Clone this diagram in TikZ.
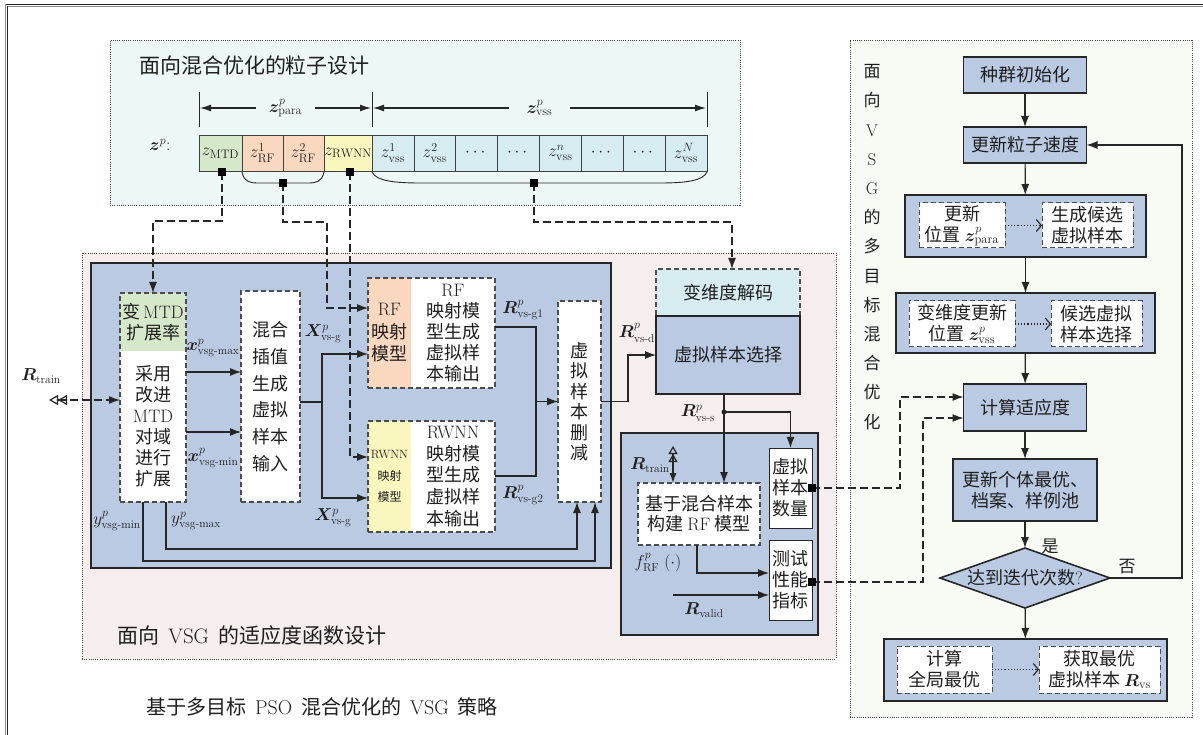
\documentclass[tikz,border=0pt]{standalone}
\usepackage{amsmath,bm}
\usepackage{fontspec}
\newfontfamily\cjk{Noto Sans CJK SC}
\usetikzlibrary{arrows.meta,shapes.geometric,fit,calc}
\definecolor{bluefill}{RGB}{185,202,226}
\definecolor{greenfill}{RGB}{214,232,202}
\definecolor{orangefill}{RGB}{250,216,191}
\definecolor{yellowfill}{RGB}{249,246,190}
\definecolor{cyanfill}{RGB}{214,236,240}
\definecolor{toppanel}{RGB}{238,247,248}
\definecolor{midpanel}{RGB}{246,237,237}
\definecolor{rightpanel}{RGB}{248,250,244}
\definecolor{edge}{RGB}{38,38,38}
\newcommand{\en}[1]{{\rmfamily #1}}
\newcommand{\gap}{\hspace{0.45em}}
\begin{document}
\begin{tikzpicture}[x=1pt,y=-1pt,
 every node/.style={inner sep=0pt,outer sep=0pt,text=black!88},
 zh18/.style={font=\fontsize{18}{21}\selectfont\cjk},
 panelbox/.style={draw=black!75, line width=0.9pt, dash pattern=on 1pt off 1.2pt},
 bigbox/.style={draw=edge, line width=1.6pt, fill=bluefill},
 dframe/.style={draw=black!70, line width=1.1pt, dash pattern=on 5pt off 3pt},
 dbox/.style={dframe, fill=white, align=center, zh18},
 sbox/.style={draw=edge, line width=0.8pt, fill=white, align=center, zh18},
 fbox/.style={draw=edge, line width=1.6pt, fill=bluefill, align=center, zh18},
 cell/.style={draw=black!75, line width=0.7pt, minimum height=36pt, font=\fontsize{17.5}{20}\selectfont},
 con/.style={draw=edge, line width=1.2pt},
 dcon/.style={draw=edge, line width=1.2pt, dash pattern=on 8pt off 4pt},
 arr/.style={-{Latex[length=11pt,width=8pt]}},
 sq/.style={fill=black, minimum size=8pt},
 mlab/.style={font=\fontsize{16.5}{18}\selectfont},
]
\useasboundingbox (0,0) rectangle (1203,735);
\fill[white] (0,0) rectangle (1203,735);
% outer frame
\draw[black!85, line width=1.6pt] (5,4.5) -- (1203,4.5);
\draw[black!45, line width=0.8pt] (7,6.8) -- (1203,6.8);
\draw[black!45, line width=0.9pt] (5,4) -- (5,735);
\draw[black!85, line width=1.2pt] (7.4,6) -- (7.4,735);

% panels
\node[panelbox, fill=toppanel, minimum width=630pt, minimum height=165pt] (ptop) at (425,122.5) {};
\node[panelbox, fill=midpanel, minimum width=754pt, minimum height=406pt] (pmid) at (459,456) {};
\node[panelbox, fill=rightpanel, minimum width=342pt, minimum height=677pt] (pright) at (1021,378.5) {};

\node[anchor=west, font=\fontsize{21}{24}\selectfont\cjk] (ttop) at (139,66) {面向混合优化的粒子设计};
\node[anchor=west, font=\fontsize{21}{24}\selectfont\cjk] (tmid) at (117,636) {面向\gap\en{VSG}\gap 的适应度函数设计};
\node[anchor=west, font=\fontsize{20}{22}\selectfont\cjk] (tbot) at (146,707) {基于多目标\gap\en{PSO}\gap 混合优化的\gap\en{VSG}\gap 策略};

% particle cells
\node[font=\fontsize{17.5}{20}\selectfont] (zp) at (160,145) {$\bm z^p$:};
\node[cell, fill=greenfill, minimum width=43pt] (cMTD) at (220.5,153) {$z_{\mathrm{MTD}}$};
\node[cell, fill=orangefill, minimum width=41pt] (cRFa) at (262.5,153) {$z^1_{\mathrm{RF}}$};
\node[cell, fill=orangefill, minimum width=41pt] (cRFb) at (303.5,153) {$z^2_{\mathrm{RF}}$};
\node[cell, fill=yellowfill, minimum width=48pt] (cRW) at (348,153) {$z_{\mathrm{RWNN}}$};
\node[cell, fill=cyanfill, minimum width=41.875pt] (v1) at (392.94,153) {$z^1_{\mathrm{vss}}$};
\node[cell, fill=cyanfill, minimum width=41.875pt] (v2) at (434.81,153) {$z^2_{\mathrm{vss}}$};
\node[cell, fill=cyanfill, minimum width=41.875pt] (v3) at (476.69,153) {$\cdots$};
\node[cell, fill=cyanfill, minimum width=41.875pt] (v4) at (518.56,153) {$\cdots$};
\node[cell, fill=cyanfill, minimum width=41.875pt] (v5) at (560.44,153) {$z^n_{\mathrm{vss}}$};
\node[cell, fill=cyanfill, minimum width=41.875pt] (v6) at (602.31,153) {$\cdots$};
\node[cell, fill=cyanfill, minimum width=41.875pt] (v7) at (644.19,153) {$\cdots$};
\node[cell, fill=cyanfill, minimum width=41.875pt] (v8) at (686.06,153) {$z^N_{\mathrm{vss}}$};

% dimension lines
\draw[edge, line width=0.8pt] (199,92) -- (199,127);
\draw[edge, line width=0.8pt] (372,92) -- (372,127);
\draw[edge, line width=0.8pt] (707,92) -- (707,127);
\coordinate (da) at (200,108); \coordinate (db) at (371,108);
\coordinate (dc) at (373,108); \coordinate (dd) at (706,108);
\draw[con, {Latex[length=11pt,width=7pt]}-{Latex[length=11pt,width=7pt]}] (da) -- (db)
  node[midway, fill=toppanel, inner xsep=13pt, inner ysep=3pt, font=\fontsize{17.5}{20}\selectfont] (lpara) {$\bm z^p_{\textrm{para}}$};
\draw[con, {Latex[length=11pt,width=7pt]}-{Latex[length=11pt,width=7pt]}] (dc) -- (dd)
  node[midway, fill=toppanel, inner xsep=18pt, inner ysep=3pt, font=\fontsize{17.5}{20}\selectfont] (lvss) {$\bm z^p_{\textrm{vss}}$};

% braces
\draw[edge, line width=0.9pt] (242,172) .. controls (244,182) and (250,183) .. (258,183) -- (308,183) .. controls (316,183) and (322,182) .. (324,172);
\draw[edge, line width=0.9pt] (372,172) .. controls (376,181) and (395,183) .. (420,183) -- (660,183) .. controls (685,183) and (703,181) .. (707,172);

% ===== left fitness block =====
\node[bigbox, minimum width=520pt, minimum height=305pt] (bigL) at (351,415.5) {};
\node[fill=greenfill, minimum width=66pt, minimum height=58pt, align=center, zh18] (varmtd) at (153,322) {变\,\en{MTD}\\扩展率};
\node[fill=white, minimum width=66pt, minimum height=151pt, align=center, zh18] (mtdexp) at (153,426.5) {采用\\改进\\\en{MTD}\\对域\\进行\\扩展};
\node[dframe, fit=(varmtd)(mtdexp)] (mtdcol) {};
\node[dbox, minimum width=59pt, minimum height=211pt, font=\fontsize{18}{26.7}\selectfont\cjk] (mix) at (270.5,396.5) {混合\\插值\\生成\\虚拟\\样本\\输入};
\node[fill=orangefill, minimum width=43pt, minimum height=110pt, align=center, font=\fontsize{18}{22.5}\selectfont\cjk] (rfL) at (389.5,333) {\en{RF}\\映射\\模型};
\node[fill=white, minimum width=84pt, minimum height=110pt, align=center, zh18] (rfR) at (453,333) {\en{RF}\\映射模\\型生成\\虚拟样\\本输出};
\node[dframe, fit=(rfL)(rfR)] (rfbox) {};
\node[fill=yellowfill, minimum width=43pt, minimum height=111pt, align=center, font=\fontsize{12}{21.5}\selectfont\cjk] (rwL) at (389.5,476.5) {\en{RWNN}\\映射\\模型};
\node[fill=white, minimum width=84pt, minimum height=111pt, align=center, font=\fontsize{18}{21.7}\selectfont\cjk] (rwR) at (453,476.5) {\en{RWNN}\\映射模\\型生成\\虚拟样\\本输出};
\node[dframe, fit=(rwL)(rwR)] (rwbox) {};
\node[dbox, minimum width=43pt, minimum height=201pt, font=\fontsize{18}{20.5}\selectfont\cjk] (del) at (579.5,401.5) {虚\\拟\\样\\本\\删\\减};

% decode / select
\node[dframe, fill=cyanfill, minimum width=144pt, minimum height=47pt, zh18] (decode) at (728,292.5) {变维度解码};
\node[fbox, minimum width=144pt, minimum height=78pt] (sel) at (728,355) {虚拟样本选择};

% lower right block
\node[bigbox, minimum width=197pt, minimum height=202pt] (botR) at (719.5,534) {};
\node[dbox, minimum width=122pt, minimum height=62pt, font=\fontsize{18}{20}\selectfont\cjk] (base) at (699,514) {基于混合样本\\构建 \en{RF} 模型};
\node[sbox, minimum width=43pt, minimum height=80pt] (cnt) at (790.5,488) {虚拟\\样本\\数量};
\node[sbox, minimum width=43pt, minimum height=80pt] (test) at (790.5,580) {测试\\性能\\指标};

% labels
\node[mlab] (lRtrain) at (41,376) {$\bm R_{\textrm{train}}$};
\node[mlab] (lxmax) at (213,348) {$\bm x^p_{\textrm{vsg-max}}$};
\node[mlab] (lxmin) at (213,458) {$\bm x^p_{\textrm{vsg-min}}$};
\node[mlab] (lymin) at (117,521) {$y^p_{\textrm{vsg-min}}$};
\node[mlab] (lymax) at (196,521) {$y^p_{\textrm{vsg-max}}$};
\node[mlab] (lX1) at (323,334) {$\bm X^p_{\textrm{vs-g}}$};
\node[mlab] (lX2) at (333,518) {$\bm X^p_{\textrm{vs-g}}$};
\node[mlab] (lR1) at (523,310) {$\bm R^p_{\textrm{vs-g1}}$};
\node[mlab] (lR2) at (523,495) {$\bm R^p_{\textrm{vs-g2}}$};
\node[mlab] (lRd) at (637,333) {$\bm R^p_{\textrm{vs-d}}$};
\node[mlab] (lRs) at (698,413) {$\bm R^p_{\textrm{vs-s}}$};
\node[mlab] (lRt2) at (650,465) {$\bm R_{\textrm{train}}$};
\node[mlab] (lf) at (658,563) {$f^p_{\mathrm{RF}}\ (\cdot)$};
\node[mlab] (lRv) at (704,610) {$\bm R_{\textrm{valid}}$};

% left-block connectors
\coordinate (rtl) at (49,400);
\draw[dcon, {Triangle[open,length=9pt,width=10pt]Triangle[open,length=9pt,width=10pt]}-{Latex[length=11pt,width=8pt]}] (rtl) -- (mtdcol.west |- 0,400);
\draw[con,arr] (mtdcol.east |- 0,372) -- (mix.west |- 0,372);
\draw[con,arr] (mtdcol.east |- 0,432) -- (mix.west |- 0,432);
\draw[con,arr] (mtdcol.south -| 143,0) -- (143,561) -| (del.south -| 595,0);
\draw[con,arr] (mtdcol.south -| 166,0) -- (166,549) -| (del.south -| 577,0);
\draw[con,arr] (mix.east |- 0,402) -- (322,402) |- (rfbox.west |- 0,354);
\draw[con,arr] (322,402) |- (rwbox.west |- 0,498);
\draw[con] (rfbox.east |- 0,327) -- (536,327) -- (536,476) -- (rwbox.east |- 0,476);
\draw[con,arr] (536,401.5) -- (del.west);
\draw[con,arr] (del.east) -- (628,401.5) |- (sel.west);

% select -> evaluation
\node[circle, fill=edge, minimum size=5pt] (dot) at (724,412) {};
\draw[con,arr] (sel.south -| 724,0) -- (base.north -| 724,0);
\draw[con,arr] (dot.center) -| (cnt.north);
\coordinate (rt2) at (673,446);
\draw[con, {Triangle[open,length=8pt,width=9pt]Triangle[open,length=8pt,width=9pt]}-{Latex[length=10pt,width=7pt]}] (rt2) -- (base.north -| 673,0);
\draw[con,arr] (base.south -| 697,0) |- (test.west |- 0,573);
\coordinate (rvs) at (673,595);
\draw[con,arr] (rvs) -- (test.west |- 0,595);

% top dashed links
\node[sq] (smtd) at (222,172) {};
\node[sq] (srf) at (283,183) {};
\node[sq] (srw) at (350,172) {};
\node[sq] (svss) at (534,183) {};
\draw[dcon,arr] (smtd.center) -- (222,221) -| (mtdcol.north);
\draw[dcon,arr] (srf.center) |- (327,222) -- (327,308) -- (rfbox.west |- 0,308);
\draw[dcon,arr] (srw.center) -- (350,457) -- (rwbox.west |- 0,457);
\draw[dcon,arr] (svss.center) |- (732,222) -- (decode.north -| 732,0);
\node[sq] at (smtd) {};
\node[sq] at (srf) {};
\node[sq] at (srw) {};
\node[sq] at (svss) {};

% ===== right flow =====
\node[font=\fontsize{17}{29.2}\selectfont\cjk, align=center] (vt) at (872,247) {面\\向\\\en{V}\\\en{S}\\\en{G}\\的\\多\\目\\标\\混\\合\\优\\化};
\node[fbox, minimum width=123pt, minimum height=36pt] (init) at (1025,75) {种群初始化};
\node[fbox, minimum width=123pt, minimum height=36pt] (vel) at (1025,145) {更新粒子速度};
\node[fbox, minimum width=241pt, minimum height=62pt] (pos1) at (1025.5,226) {};
\node[dbox, line width=1pt, minimum width=86pt, minimum height=45pt] (p1L) at (962,225.5) {更新\\位置 $\bm z^p_{\textrm{para}}$};
\node[dbox, line width=1pt, minimum width=91pt, minimum height=45pt] (p1R) at (1087.5,225.5) {生成候选\\虚拟样本};
\node[fbox, minimum width=259pt, minimum height=60pt] (pos2) at (1025.5,323) {};
\node[dbox, line width=1pt, minimum width=106pt, minimum height=46pt] (p2L) at (962,324) {变维度更新\\位置 $\bm z^p_{\textrm{vss}}$};
\node[dbox, line width=1pt, minimum width=91pt, minimum height=46pt] (p2R) at (1096.5,324) {候选虚拟\\样本选择};
\node[fbox, minimum width=123pt, minimum height=47pt] (fitn) at (1025,407.5) {计算适应度};
\node[fbox, minimum width=144pt, minimum height=62pt] (upd) at (1025,490) {更新个体最优、\\档案、样例池};
\node[fbox, diamond, minimum width=170pt, minimum height=60pt] (dia) at (1025,578) {};
\node[zh18] (diat) at (1025,578) {达到迭代次数\en{?}};
\node[fbox, minimum width=283pt, minimum height=62pt] (final) at (1025.5,670) {};
\node[dbox, line width=1pt, minimum width=95pt, minimum height=47pt] (fL) at (944.5,669.5) {计算\\全局最优};
\node[dbox, line width=1pt, minimum width=121pt, minimum height=47pt] (fR) at (1099.5,669.5) {获取最优\\虚拟样本 $\bm R_{\textrm{vs}}$};
\node[font=\fontsize{17}{20}\selectfont\cjk] (yes) at (1050,546) {是};
\node[font=\fontsize{17}{20}\selectfont\cjk] (no) at (1127,567) {否};

\draw[con,arr] (init) -- (vel);
\draw[con,arr] (vel) -- (pos1);
\draw[con,arr] (pos1) -- (pos2);
\draw[con,arr] (pos2) -- (fitn);
\draw[con,arr] (fitn) -- (upd);
\draw[con,arr] (upd) -- (dia);
\draw[con,arr] (dia) -- (final);
\draw[con,arr] (dia.east) -- (1182,578) |- (vel.east);
\draw[edge, line width=1.1pt, dotted, -{Straight Barb[length=5pt,width=12pt]}] (p1L) -- (p1R);
\draw[edge, line width=1.1pt, dotted, -{Straight Barb[length=5pt,width=12pt]}] (p2L) -- (p2R);
\draw[edge, line width=1.1pt, dotted, -{Straight Barb[length=5pt,width=12pt]}] (fL) -- (fR);

% evaluation -> fitness
\node[sq] (sqc) at (812,488) {};
\node[sq] (sqt) at (812,582) {};
\draw[dcon,arr] (sqc.center) -- (900,488) |- (fitn.west |- 0,397);
\draw[dcon,arr] (sqt.center) -- (923,582) |- (fitn.west |- 0,418);
\node[sq] at (sqc) {};
\node[sq] at (sqt) {};
\end{tikzpicture}
\end{document}
